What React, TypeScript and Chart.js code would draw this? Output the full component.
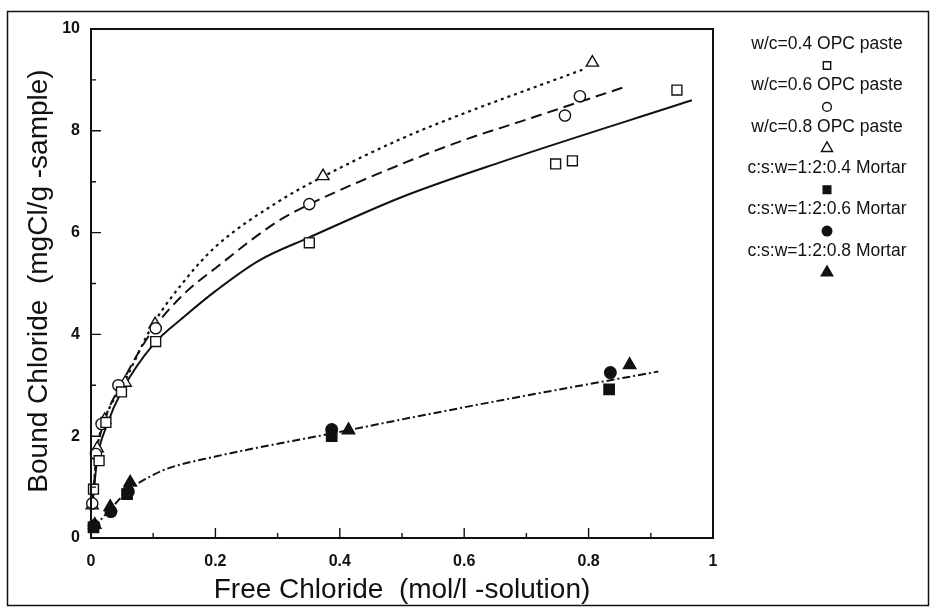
import React, { useEffect, useRef } from "react";
import { Chart, registerables } from "chart.js";

Chart.register(...registerables);

const W = 935;
const H = 609;

// Axis ticks
const xMajorTicks = [0, 0.2, 0.4, 0.6, 0.8, 1];
const xMinorTicks = [0.1, 0.3, 0.5, 0.7, 0.9];
const yMajorTicks = [0, 2, 4, 6, 8, 10];
const yMinorTicks = [1, 3, 5, 7, 9];

// Series labels
const seriesLabels = [
  "w/c=0.4 OPC paste",
  "w/c=0.6 OPC paste",
  "w/c=0.8 OPC paste",
  "c:s:w=1:2:0.4 Mortar",
  "c:s:w=1:2:0.6 Mortar",
  "c:s:w=1:2:0.8 Mortar",
];

// Measured points: free chloride (mol/l) vs bound chloride (mgCl/g)
const paste04X = [0.004, 0.013, 0.024, 0.049, 0.104, 0.351, 0.747, 0.774, 0.942];
const paste04Y = [0.96, 1.52, 2.27, 2.87, 3.86, 5.8, 7.35, 7.41, 8.8];
const paste06X = [0.002, 0.008, 0.017, 0.044, 0.104, 0.351, 0.762, 0.786];
const paste06Y = [0.68, 1.65, 2.24, 3.0, 4.12, 6.56, 8.3, 8.68];
const paste08X = [0.002, 0.01, 0.022, 0.055, 0.103, 0.373, 0.806];
const paste08Y = [0.64, 1.76, 2.32, 3.05, 4.2, 7.11, 9.34];
const mortar04X = [0.004, 0.058, 0.387, 0.833];
const mortar04Y = [0.21, 0.86, 2.0, 2.92];
const mortar06X = [0.005, 0.032, 0.06, 0.387, 0.835];
const mortar06Y = [0.24, 0.52, 0.91, 2.13, 3.25];
const mortar08X = [0.006, 0.031, 0.063, 0.414, 0.866];
const mortar08Y = [0.26, 0.61, 1.09, 2.12, 3.4];

// Fitted binding isotherms
const fit04X = [0.002, 0.01, 0.025, 0.05, 0.1, 0.15, 0.2, 0.27, 0.35, 0.5, 0.66, 0.966];
const fit04Y = [0.6, 1.55, 2.2, 2.9, 3.8, 4.35, 4.85, 5.45, 5.9, 6.7, 7.39, 8.6];
const fit06X = [0.002, 0.01, 0.02, 0.05, 0.1, 0.15, 0.2, 0.3, 0.35, 0.5, 0.6, 0.69, 0.86];
const fit06Y = [0.65, 1.7, 2.25, 3.05, 4.1, 4.8, 5.3, 6.22, 6.55, 7.35, 7.82, 8.18, 8.87];
const fit08X = [0.002, 0.01, 0.022, 0.055, 0.1, 0.15, 0.2, 0.3, 0.373, 0.5, 0.58, 0.79];
const fit08Y = [0.65, 1.75, 2.32, 3.1, 4.2, 5.05, 5.72, 6.6, 7.1, 7.85, 8.25, 9.2];
const fitMortarX = [0.004, 0.03, 0.063, 0.085, 0.12, 0.2, 0.27, 0.39, 0.5, 0.674, 0.912];
const fitMortarY = [0.2, 0.55, 0.97, 1.14, 1.35, 1.6, 1.78, 2.06, 2.33, 2.74, 3.27];

const FONT = '"Liberation Sans", Arial, Helvetica, sans-serif';
const INK = "#111";

const pts = (xs: number[], ys: number[]) => xs.map((x, i) => ({ x, y: ys[i] }));

type MarkerStyle = "rect" | "circle" | "triangle";

function drawMarker(
  ctx: CanvasRenderingContext2D,
  style: MarkerStyle,
  x: number,
  y: number,
  r: number,
  filled: boolean
) {
  ctx.beginPath();
  if (style === "rect") {
    const s = Math.SQRT1_2 * r;
    ctx.rect(x - s, y - s, 2 * s, 2 * s);
  } else if (style === "circle") {
    ctx.arc(x, y, r, 0, Math.PI * 2);
  } else {
    const a = (2 * Math.PI) / 3;
    ctx.moveTo(x, y - r);
    ctx.lineTo(x + Math.sin(a) * r, y - Math.cos(a) * r);
    ctx.lineTo(x + Math.sin(2 * a) * r, y - Math.cos(2 * a) * r);
    ctx.closePath();
  }
  ctx.fillStyle = filled ? INK : "#fff";
  ctx.fill();
  ctx.lineWidth = 1.4;
  ctx.strokeStyle = INK;
  ctx.stroke();
}

const markerDefs: { style: MarkerStyle; filled: boolean; r: number }[] = [
  { style: "rect", filled: false, r: 7 },
  { style: "circle", filled: false, r: 5.6 },
  { style: "triangle", filled: false, r: 7 },
  { style: "rect", filled: true, r: 7.3 },
  { style: "circle", filled: true, r: 5.8 },
  { style: "triangle", filled: true, r: 7.2 },
];

const legendMarker = [5.2, 4.4, 6.4, 5.4, 4.8, 6.6];

const decorPlugin = {
  id: "decor",
  afterDraw(chart: any) {
    const { ctx, chartArea: a, scales } = chart;
    const xs = scales.x;
    const ys = scales.y;
    ctx.save();

    // outer frame
    ctx.strokeStyle = INK;
    ctx.lineWidth = 1.5;
    ctx.strokeRect(7.5, 11.5, 921, 594);

    // plot frame
    ctx.lineWidth = 2;
    ctx.strokeRect(a.left, a.top, a.right - a.left, a.bottom - a.top);

    // inward tick marks
    ctx.lineWidth = 1.4;
    ctx.beginPath();
    xMajorTicks.slice(1, -1).forEach((v) => {
      const px = xs.getPixelForValue(v);
      ctx.moveTo(px, a.bottom);
      ctx.lineTo(px, a.bottom - 10);
    });
    xMinorTicks.forEach((v) => {
      const px = xs.getPixelForValue(v);
      ctx.moveTo(px, a.bottom);
      ctx.lineTo(px, a.bottom - 5);
    });
    yMajorTicks.slice(1, -1).forEach((v) => {
      const py = ys.getPixelForValue(v);
      ctx.moveTo(a.left, py);
      ctx.lineTo(a.left + 10, py);
    });
    yMinorTicks.forEach((v) => {
      const py = ys.getPixelForValue(v);
      ctx.moveTo(a.left, py);
      ctx.lineTo(a.left + 5, py);
    });
    ctx.stroke();

    // axis titles
    ctx.fillStyle = INK;
    ctx.font = `28px ${FONT}`;
    ctx.textAlign = "center";
    ctx.textBaseline = "alphabetic";
    ctx.fillText("Free Chloride  (mol/l -solution)", (a.left + a.right) / 2, 598);
    ctx.save();
    ctx.translate(47, 281);
    ctx.rotate(-Math.PI / 2);
    ctx.fillText("Bound Chloride  (mgCl/g -sample)", 0, 0);
    ctx.restore();

    // legend: label with its marker underneath
    ctx.font = `17.5px ${FONT}`;
    ctx.textBaseline = "middle";
    const cx = 827;
    seriesLabels.forEach((label, i) => {
      const ty = 44 + i * 41.4;
      ctx.fillStyle = INK;
      ctx.fillText(label, cx, ty);
      const m = markerDefs[i];
      drawMarker(ctx, m.style, cx, ty + 21.5, legendMarker[i], m.filled);
    });

    ctx.restore();
  },
};

export default function App() {
  const canvasRef = useRef<HTMLCanvasElement | null>(null);

  useEffect(() => {
    const canvas = canvasRef.current;
    if (!canvas) return;

    const markerData = [
      pts(paste04X, paste04Y),
      pts(paste06X, paste06Y),
      pts(paste08X, paste08Y),
      pts(mortar04X, mortar04Y),
      pts(mortar06X, mortar06Y),
      pts(mortar08X, mortar08Y),
    ];

    const markerSets = markerData.map((data, i) => {
      const m = markerDefs[i];
      return {
        label: seriesLabels[i],
        data,
        showLine: false,
        pointStyle: m.style,
        pointRadius: m.r,
        pointBorderWidth: 1.4,
        pointBorderColor: INK,
        pointBackgroundColor: m.filled ? INK : "#fff",
        clip: false as any,
        order: 0,
      };
    });

    const curve = (xsArr: number[], ysArr: number[], dash: number[], width: number) => ({
      label: "",
      data: pts(xsArr, ysArr),
      showLine: true,
      pointRadius: 0,
      borderColor: INK,
      borderWidth: width,
      borderDash: dash,
      cubicInterpolationMode: "monotone" as const,
      clip: false as any,
      order: 1,
    });

    const chart = new Chart(canvas, {
      type: "scatter",
      data: {
        datasets: [
          ...markerSets,
          curve(fit04X, fit04Y, [], 2),
          curve(fit06X, fit06Y, [11, 6], 2),
          curve(fit08X, fit08Y, [3, 4], 2.2),
          curve(fitMortarX, fitMortarY, [8, 3, 2, 3], 2),
        ] as any,
      },
      options: {
        animation: false,
        responsive: false,
        devicePixelRatio: 1,
        events: [],
        layout: { padding: { left: 0, top: 29, right: W - 713, bottom: 0 } },
        plugins: {
          legend: { display: false },
          tooltip: { enabled: false },
        },
        scales: {
          x: {
            type: "linear",
            min: 0,
            max: 1,
            afterBuildTicks: (scale: any) => {
              scale.ticks = xMajorTicks.map((value) => ({ value }));
            },
            afterFit: (scale: any) => {
              scale.height = H - 538;
            },
            grid: { display: false, drawTicks: false },
            border: { display: false },
            ticks: {
              padding: 14,
              color: INK,
              font: { family: FONT, size: 16, weight: "bold" },
              callback: (v: any) => String(v),
            },
          },
          y: {
            type: "linear",
            min: 0,
            max: 10,
            afterBuildTicks: (scale: any) => {
              scale.ticks = yMajorTicks.map((value) => ({ value }));
            },
            afterFit: (scale: any) => {
              scale.width = 91;
            },
            grid: { display: false, drawTicks: false },
            border: { display: false },
            ticks: {
              padding: 11,
              color: INK,
              font: { family: FONT, size: 16, weight: "bold" },
              callback: (v: any) => String(v),
            },
          },
        },
      },
      plugins: [decorPlugin],
    });

    return () => chart.destroy();
  }, []);

  return (
    <div
      style={{
        position: "fixed",
        left: 0,
        top: 0,
        width: W,
        height: H,
        background: "#fff",
      }}
    >
      <canvas ref={canvasRef} width={W} height={H} style={{ width: W, height: H, display: "block" }} />
    </div>
  );
}
